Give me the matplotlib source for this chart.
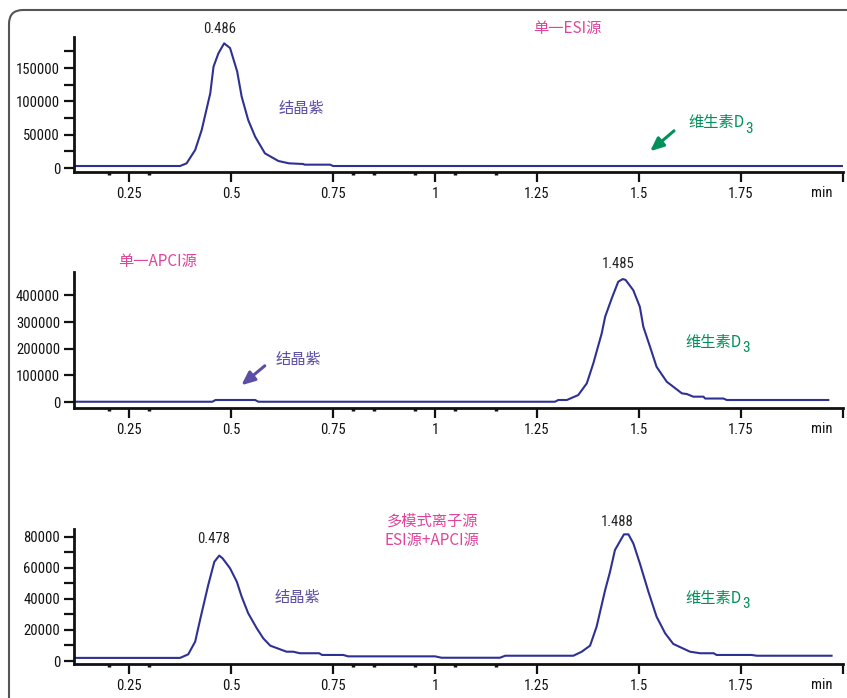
import matplotlib
matplotlib.use('Agg')
import matplotlib.pyplot as plt
from matplotlib.patches import FancyBboxPatch

# Retention time (min) and intensity for each ion source
t_esi = [0.115, 0.375, 0.391, 0.412, 0.428, 0.449, 0.457, 0.469, 0.483, 0.4975, 0.515, 0.526,
         0.542, 0.559, 0.583, 0.616, 0.642, 0.677, 0.680, 0.743, 0.750, 1.998]
y_esi = [3000, 3000, 7000, 27000, 57000, 112000, 152000, 172000, 187000, 180000, 144700, 107000,
         72000, 47000, 22000, 10500, 7000, 6000, 5000, 5000, 3000, 3000]

t_apci = [0.115, 0.454, 0.462, 0.559, 0.567, 1.294, 1.302, 1.323, 1.351, 1.372, 1.388, 1.4085,
          1.417, 1.433, 1.449, 1.460, 1.467, 1.486, 1.502, 1.5106, 1.527, 1.543, 1.568, 1.605,
          1.617, 1.633, 1.658, 1.662, 1.707, 1.715, 1.964]
y_apci = [1000, 1000, 7500, 7500, 1000, 1000, 7500, 7500, 26000, 70000, 145000, 257000,
          320000, 388000, 451000, 461000, 458000, 419000, 357000, 282000, 207000, 132000, 76000, 32500,
          30000, 20000, 20000, 13000, 13000, 7500, 7500]

t_multi = [0.115, 0.375, 0.395, 0.412, 0.424, 0.444, 0.459, 0.471, 0.479, 0.4975, 0.514, 0.526,
           0.542, 0.563, 0.579, 0.596, 0.636, 0.652, 0.669, 0.716, 0.723, 0.775, 0.787, 1.0,
           1.016, 1.159, 1.172, 1.339, 1.3596, 1.380, 1.396, 1.417, 1.429, 1.441, 1.463, 1.474,
           1.486, 1.502, 1.523, 1.543, 1.564, 1.584, 1.625, 1.650, 1.683, 1.690, 1.776, 1.789, 1.972]
y_multi = [2000, 2000, 4300, 12500, 26500, 49000, 64000, 68000, 66300, 59800, 51200, 41500,
           30800, 21100, 14600, 9900, 6000, 6000, 5000, 5000, 3900, 3900, 3000, 3000,
           2100, 2100, 3400, 3400, 6000, 9900, 22100, 45800, 57600, 71600, 81700, 81700,
           75900, 63000, 44700, 28600, 17900, 11000, 6000, 5000, 5000, 3900, 3900, 3400, 3400]

x_ticks = [0.25, 0.5, 0.75, 1.0, 1.25, 1.5, 1.75, 2.0]
x_tick_labels = ['0.25', '0.5', '0.75', '1', '1.25', '1.5', '1.75', '']
x_dots = [0.2, 0.3, 0.8, 0.85, 0.95, 1.05, 1.15]

line_color = '#2e3192'
pink = '#e0449a'
purple = '#5b4ea3'
green = '#00915a'
# narrow font for numbers, first one installed wins
num_font = ['Liberation Sans Narrow', 'DejaVu Sans Condensed', 'Roboto Condensed', 'Roboto', 'DejaVu Sans']
cjk_font = ['Noto Sans CJK SC', 'DejaVu Sans']

fig = plt.figure(figsize=(8.47, 6.98), dpi=100)

# rounded frame around the whole figure (display pixels)
frame = FancyBboxPatch((9, -30), 900, 698 - 10 + 30, boxstyle='round,pad=0,rounding_size=14',
                       transform=None, fill=False, edgecolor='#555555', linewidth=1.5)
fig.patches.append(frame)


def make_axes(rect, t, y, ylim, yticks, yminor):
    ax = fig.add_axes(rect)
    ax.plot(t, y, color=line_color, lw=1.5)
    ax.set_xlim(0.115, 2.0)
    ax.set_ylim(*ylim)
    for s in ['top', 'right']:
        ax.spines[s].set_visible(False)
    for s in ['left', 'bottom']:
        ax.spines[s].set_linewidth(2)
        ax.spines[s].set_color('#111111')
    ax.set_xticks(x_ticks)
    ax.set_xticklabels(x_tick_labels)
    ax.set_xticks(x_dots, minor=True)
    ax.set_yticks(yticks)
    ax.set_yticks(yminor, minor=True)
    ax.tick_params(axis='x', which='major', length=7, width=1.6, pad=4, labelsize=10.5, colors='#111111')
    ax.tick_params(axis='x', which='minor', length=2, width=2.5, colors='#111111')
    ax.tick_params(axis='y', which='both', length=7, width=1.6, pad=3, labelsize=10.5, colors='#111111')
    for lab in ax.get_xticklabels() + ax.get_yticklabels():
        lab.set_family(num_font)
        lab.set_stretch('condensed')
    ax.text(1.949, -0.155, 'min', transform=ax.get_xaxis_transform(), ha='center', va='center',
            fontsize=10.5, family=num_font, stretch='condensed', color='#111111')
    return ax


def vitd_label(ax, x, y):
    t1 = ax.text(x, y, '维生素D', ha='left', va='center', fontsize=11, family=cjk_font,
                 color=green, clip_on=False)
    ax.annotate('3', xy=(1.0, 0.5), xycoords=t1, xytext=(0.5, -4), textcoords='offset points',
                ha='left', va='center', fontsize=11, family=num_font, stretch='condensed',
                color=green, annotation_clip=False)


def peak_label(ax, x, y, s):
    ax.text(x, y, s, ha='center', va='center', fontsize=10.5, family=num_font, stretch='condensed',
            color='#222222', clip_on=False)


# top panel: ESI only
ax1 = make_axes([74 / 847, 1 - 172 / 698, 769 / 847, 135 / 698], t_esi, y_esi, (-6000, 196500),
                [0, 50000, 100000, 150000], [25000, 75000, 125000, 175000])
peak_label(ax1, 0.473, 208500, '0.486')
ax1.text(1.324, 210000, '单一ESI源', ha='center', va='center', fontsize=11, family=cjk_font,
         color=pink, clip_on=False)
ax1.text(0.672, 88500, '结晶紫', ha='center', va='center', fontsize=11, family=cjk_font, color=purple)
vitd_label(ax1, 1.620, 67500)
ax1.annotate('', xy=(1.522, 22500), xytext=(1.591, 58500),
             arrowprops=dict(arrowstyle='-|>,head_length=0.8,head_width=0.35', color=green, lw=2.2))

# middle panel: APCI only
ax2 = make_axes([74 / 847, 1 - 408 / 698, 769 / 847, 136 / 698], t_apci, y_apci, (-22500, 487500),
                [0, 100000, 200000, 300000, 400000], [])
peak_label(ax2, 1.449, 517500, '1.485')
ax2.text(0.321, 528750, '单一APCI源', ha='center', va='center', fontsize=11, family=cjk_font,
         color=pink, clip_on=False)
ax2.text(0.664, 161250, '结晶紫', ha='center', va='center', fontsize=11, family=cjk_font, color=purple)
ax2.annotate('', xy=(0.520, 56250), xytext=(0.588, 142500),
             arrowprops=dict(arrowstyle='-|>,head_length=0.8,head_width=0.35', color=purple, lw=2.2))
vitd_label(ax2, 1.613, 225000)

# bottom panel: multimode source
ax3 = make_axes([74 / 847, 1 - 664 / 698, 769 / 847, 135 / 698], t_multi, y_multi, (-1935, 85150),
                [0, 20000, 40000, 60000, 80000], [10000, 30000, 50000, 70000])
peak_label(ax3, 0.458, 78700, '0.478')
peak_label(ax3, 1.446, 89650, '1.488')
ax3.text(0.993, 83850, '多模式离子源\nESI源+APCI源', ha='center', va='center', fontsize=11,
         family=cjk_font, color=pink, linespacing=1.2, clip_on=False)
ax3.text(0.662, 41280, '结晶紫', ha='center', va='center', fontsize=11, family=cjk_font, color=purple)
vitd_label(ax3, 1.613, 40635)

fig.savefig('out.png', dpi=100)
